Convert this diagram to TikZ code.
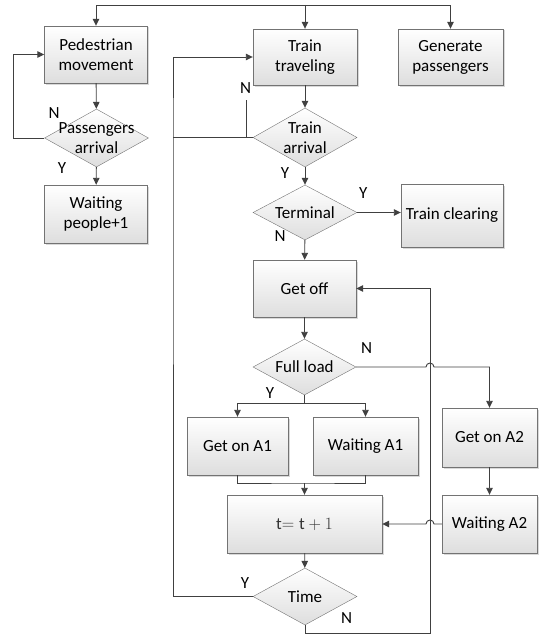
\documentclass[tikz,border=0pt]{standalone}
\usepackage{fontspec}
\setmainfont{Carlito}
\usetikzlibrary{arrows.meta,positioning,shapes.geometric,shadows}

\begin{document}
\begin{tikzpicture}[
  x=1pt, y=-1pt, font=\fontsize{17}{20}\selectfont,
  blk/.style={draw=black!55, top color=white, bottom color=black!13, align=center, inner sep=2pt, minimum width=103pt, minimum height=57pt, drop shadow={shadow xshift=1.5pt, shadow yshift=-1.5pt, opacity=0.3}},
  dec/.style={draw=black!55, diamond, top color=white, bottom color=black!13, inner sep=0pt, minimum width=104pt, minimum height=58pt},
  dl/.style={align=center, inner sep=0pt},
  yn/.style={inner sep=0pt},
  ln/.style={draw=black!75, line width=0.9pt},
  pf/.style={ln, -{Triangle[length=7pt, width=6.5pt]}}
]
\useasboundingbox (0,0) rectangle (538,634);

% left column
\node[blk] (ped) at (96,54.5) {Pedestrian\\movement};
\node[dec, label={[dl]center:Passengers\\arrival}] (parr) at (96.5,138) {};
\node[blk, minimum height=58pt] (wpeople) at (96,214) {Waiting\\people+1};

% main column
\node[blk, minimum width=104pt, minimum height=56pt] (trav) at (305,57) {Train\\traveling};
\node[blk, minimum width=105pt, minimum height=56pt] (gen) at (450.5,57) {Generate\\passengers};
\node[dec, minimum height=59pt, label={[dl]center:Train\\arrival}] (tarr) at (305,137.5) {};
\node[dec, minimum height=55pt, label={[dl]center:Terminal}] (term) at (305,212.5) {};
\node[blk, minimum width=102pt, minimum height=63pt] (clear) at (452,215.5) {Train clearing};
\node[blk] (getoff) at (304.5,288.5) {Get off};
\node[dec, minimum width=103pt, minimum height=56pt, label={[dl]center:Full load}] (full) at (304.5,367) {};
\node[blk, minimum width=101pt, minimum height=58pt] (on1) at (237.5,446) {Get on A1};
\node[blk, minimum width=105pt, minimum height=58pt] (wa1) at (365.5,446) {Waiting A1};
\node[blk, minimum width=95pt, minimum height=59pt] (on2) at (489.5,437.5) {Get on A2};
\node[blk, minimum width=95pt, minimum height=58pt] (wa2) at (489.5,524) {Waiting A2};
\node[blk, minimum width=155pt, minimum height=58pt, text=black!80] (tinc) at (304.5,524) {$\mathrm{t}{=}\;\mathrm{t}+1$};
\node[dec, minimum height=57pt, label={[dl]center:Time}] (time) at (305,596.5) {};

% Y / N
\node[yn] (nparr) at (54,113) {N};
\node[yn] (yparr) at (62,168) {Y};
\node[yn] (ntarr) at (245.5,88.5) {N};
\node[yn] (ytarr) at (285,173) {Y};
\node[yn] (yterm) at (363.3,192.7) {Y};
\node[yn] (nterm) at (280,236) {N};
\node[yn] (nfull) at (366.7,348.3) {N};
\node[yn] (yfull) at (270,393.3) {Y};
\node[yn] (ytime) at (245,583.3) {Y};
\node[yn] (ntime) at (346.7,618.3) {N};

\coordinate (top) at (305,5);
\coordinate (stub) at (246,100);
\coordinate (lft) at (173,137.5);

\draw[pf] (top) -- (trav);
\draw[pf] (top) -| (ped);
\draw[pf] (top) -| (gen);

\draw[pf] (ped) -- (parr);
\draw[pf] (parr) -- (wpeople);
\draw[pf] (parr.west) -- ++(-31,0) |- (ped.west);

\draw[pf] (trav) -- (tarr);
\draw[ln] (tarr.west) -- (lft);
\draw[ln] (stub) -- (stub |- tarr.west);
\draw[pf] (time.west) -| (lft) |- (trav.west);
\draw[pf] (tarr) -- (term);
\draw[pf] (term.east) -- (term.east -| clear.west);
\draw[pf] (term) -- (getoff);
\draw[pf] (getoff) -- (full);
\draw[pf] (full.south) -- ++(0,8) -| (on1.north);
\draw[pf] (full.south) -- ++(0,8) -| (wa1.north);
\draw[pf] (full.east) -- (426,367) arc[start angle=180, end angle=0, radius=4pt] -| (on2.north);
\draw[ln] (on1.south) |- (304.5,483) -| (wa1.south);
\draw[pf] (304.5,483) -- (tinc.north);
\draw[pf] (on2) -- (wa2);
\draw[pf] (wa2.west) -- (434,524) arc[start angle=0, end angle=180, radius=4pt] -- (tinc.east);
\draw[pf] (tinc) -- (time);
\draw[pf] (time.south) -- (305,633) -- (430,633) -- (430,288.5) -- (getoff.east);
\end{tikzpicture}
\end{document}
